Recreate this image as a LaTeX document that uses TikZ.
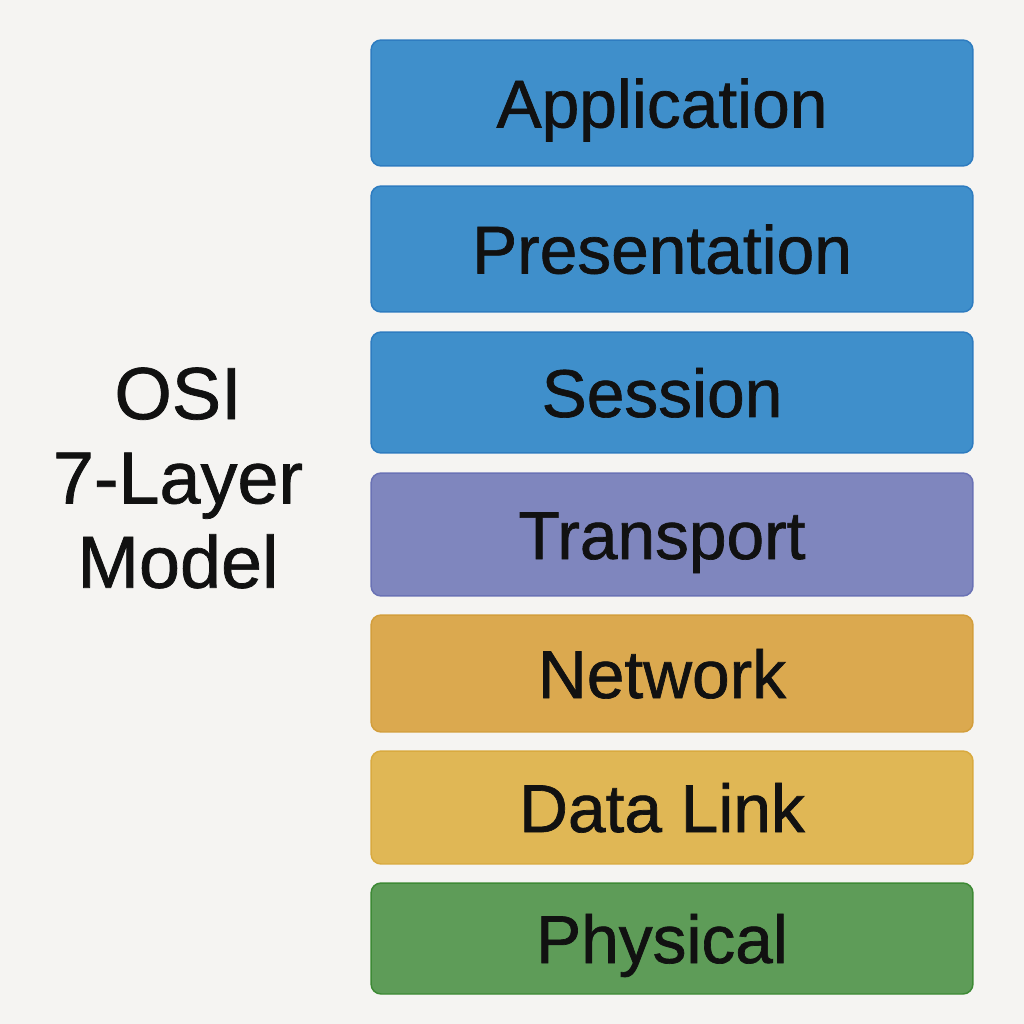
\documentclass[tikz,border=0pt]{standalone}
\usepackage{fontspec}
\setmainfont{Liberation Sans}
\newfontfamily\layerfont{Liberation Sans}[FakeBold=1.0]
\usetikzlibrary{positioning}

\definecolor{bgcol}{HTML}{F5F4F2}
\definecolor{appfill}{HTML}{3F8FCB}
\definecolor{appdraw}{HTML}{2E7CC0}
\definecolor{transfill}{HTML}{7F86BE}
\definecolor{transdraw}{HTML}{6A72B5}
\definecolor{netfill}{HTML}{DBA94F}
\definecolor{netdraw}{HTML}{D39E3C}
\definecolor{dlfill}{HTML}{E0B755}
\definecolor{dldraw}{HTML}{D9AA3F}
\definecolor{physfill}{HTML}{5E9C58}
\definecolor{physdraw}{HTML}{3D8A35}
\definecolor{txtcol}{HTML}{111111}

\begin{document}
\begin{tikzpicture}[
      x=0.02cm, y=-0.02cm,
      layerbox/.style={
         rectangle,
         rounded corners=0.2cm,
         line width=0.85pt,
         minimum width=12.04cm,
         inner sep=0pt,
         text height=0.98cm,
         text depth=0pt,
         text=txtcol,
         font=\layerfont\fontsize{38.5}{44}\selectfont},
      mytitle/.style={
         align=center,
         text=txtcol,
         font=\layerfont\fontsize{42}{48}\selectfont}
      ]
      \fill[bgcol] (0,0) rectangle (1024,1024);
      \useasboundingbox (0,0) rectangle (1024,1024);
      \node[layerbox, fill=appfill, draw=appdraw, minimum height=2.52cm] (app) at (672,103) {\hspace*{-0.4cm}Application};
      \node[layerbox, fill=appfill, draw=appdraw, minimum height=2.52cm] (pres) at (672,249) {\hspace*{-0.4cm}Presentation};
      \node[layerbox, fill=appfill, draw=appdraw, minimum height=2.42cm] (sess) at (672,392.5) {\hspace*{-0.4cm}Session};
      \node[layerbox, fill=transfill, draw=transdraw, minimum height=2.46cm] (trans) at (672,534.5) {\hspace*{-0.4cm}Transport};
      \node[layerbox, fill=netfill, draw=netdraw, minimum height=2.34cm] (net) at (672,673.5) {\hspace*{-0.4cm}Network};
      \node[layerbox, fill=dlfill, draw=dldraw, minimum height=2.26cm] (dl) at (672,807.5) {\hspace*{-0.4cm}Data Link};
      \node[layerbox, fill=physfill, draw=physdraw, minimum height=2.22cm] (phys) at (672,938.5) {\hspace*{-0.4cm}Physical};
      % title on the left
      \node[mytitle] (title) at (178,478) {OSI\\7-Layer\\Model};
\end{tikzpicture}
\end{document}
